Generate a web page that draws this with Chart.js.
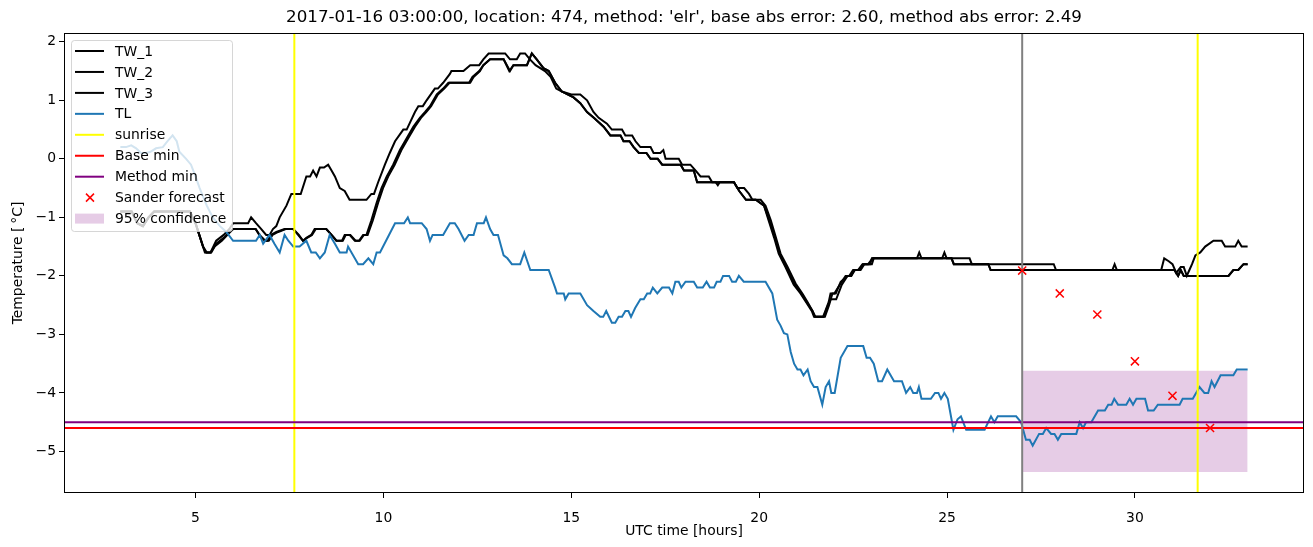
<!DOCTYPE html>
<html><head><meta charset="utf-8">
<script src="https://cdn.jsdelivr.net/npm/chart.js@4"></script>
<style>html,body{margin:0;padding:0;background:#fff;}canvas{display:block;}</style>
</head><body>
<canvas id="c" width="1313" height="547"></canvas>
<script>
const TITLE = "2017-01-16 03:00:00, location: 474, method: 'elr', base abs error: 2.60, method abs error: 2.49";
const X_LABEL = "UTC time [hours]";
const Y_LABEL = "Temperature [\u2009\u00b0C]";
const X_TICKS = [5, 10, 15, 20, 25, 30];
const Y_TICKS = [-5, -4, -3, -2, -1, 0, 1, 2];
const X_RANGE = [1.5, 34.5];
const Y_RANGE = [-5.71, 2.15];

const TW_1 = [[3.0,-0.9],[3.3,-0.9],[3.45,-1.1],[3.6,-1.15],[3.75,-1.0],[3.9,-0.9],[4.85,-0.9],[5.0,-1.1],[5.2,-1.5],[5.3,-1.6],[5.4,-1.6],[5.55,-1.4],[5.75,-1.3],[5.9,-1.2],[6.0,-1.1],[6.4,-1.1],[6.48,-1.0],[6.61,-1.1],[6.75,-1.2],[6.88,-1.3],[6.97,-1.3],[7.06,-1.2],[7.15,-1.15],[7.24,-1.0],[7.42,-0.8],[7.55,-0.6],[7.8,-0.6],[7.95,-0.3],[8.05,-0.3],[8.13,-0.2],[8.22,-0.3],[8.31,-0.15],[8.42,-0.15],[8.53,-0.1],[8.62,-0.2],[8.71,-0.3],[8.84,-0.5],[8.97,-0.55],[9.1,-0.7],[9.55,-0.7],[9.68,-0.6],[9.75,-0.6],[9.86,-0.4],[10.04,-0.1],[10.17,0.1],[10.31,0.3],[10.53,0.5],[10.62,0.5],[10.84,0.8],[10.93,0.9],[11.05,0.9],[11.15,1.0],[11.37,1.2],[11.45,1.2],[11.59,1.3],[11.77,1.45],[11.81,1.5],[12.13,1.5],[12.31,1.6],[12.55,1.6],[12.66,1.7],[12.8,1.8],[13.24,1.8],[13.37,1.7],[13.55,1.7],[13.64,1.8],[13.77,1.8],[13.9,1.7],[14.05,1.6],[14.3,1.5],[14.45,1.4],[14.6,1.2],[14.75,1.15],[15.0,1.1],[15.24,1.1],[15.42,1.0],[15.59,0.8],[15.73,0.7],[15.95,0.6],[16.08,0.5],[16.35,0.5],[16.44,0.4],[16.62,0.4],[16.71,0.3],[16.84,0.2],[17.11,0.2],[17.19,0.1],[17.37,0.1],[17.45,0.15],[17.51,0.0],[17.86,0.0],[17.95,-0.1],[18.17,-0.1],[18.31,-0.2],[18.44,-0.3],[18.66,-0.3],[18.75,-0.4],[19.33,-0.4],[19.42,-0.5],[19.6,-0.5],[19.73,-0.6],[19.82,-0.7],[20.04,-0.7],[20.17,-0.8],[20.31,-1.05],[20.44,-1.33],[20.57,-1.62],[20.75,-1.84],[20.97,-2.13],[21.15,-2.3],[21.29,-2.45],[21.42,-2.6],[21.5,-2.7],[21.75,-2.7],[21.86,-2.5],[21.95,-2.3],[22.04,-2.3],[22.17,-2.1],[22.35,-2.0],[22.45,-2.0],[22.53,-1.9],[22.67,-1.9],[22.76,-1.8],[22.9,-1.8],[23.02,-1.7],[24.2,-1.7],[24.26,-1.6],[24.32,-1.7],[24.87,-1.7],[24.93,-1.6],[24.99,-1.7],[25.6,-1.7],[25.66,-1.8],[27.84,-1.8],[27.9,-1.9],[29.4,-1.9],[29.46,-1.8],[29.52,-1.9],[30.7,-1.9],[30.78,-1.7],[30.9,-1.75],[31.0,-1.8],[31.1,-1.95],[31.22,-1.85],[31.3,-1.85],[31.38,-2.0],[31.45,-1.9],[31.52,-1.8],[31.61,-1.65],[31.74,-1.6],[31.87,-1.5],[32.09,-1.4],[32.31,-1.4],[32.4,-1.5],[32.67,-1.5],[32.75,-1.4],[32.84,-1.5],[33.0,-1.5]];

const TW_2 = [[3.0,-0.9],[3.3,-0.9],[3.45,-1.1],[3.6,-1.15],[3.75,-1.0],[3.9,-0.9],[4.85,-0.9],[5.0,-1.1],[5.2,-1.5],[5.25,-1.6],[5.42,-1.6],[5.55,-1.45],[5.75,-1.35],[5.9,-1.25],[6.0,-1.2],[6.6,-1.2],[6.7,-1.3],[6.85,-1.4],[6.92,-1.4],[7.0,-1.3],[7.15,-1.25],[7.37,-1.2],[7.6,-1.2],[7.73,-1.3],[7.86,-1.4],[7.95,-1.35],[8.08,-1.3],[8.17,-1.2],[8.48,-1.2],[8.62,-1.3],[8.75,-1.4],[8.9,-1.4],[8.97,-1.3],[9.1,-1.3],[9.24,-1.4],[9.35,-1.4],[9.46,-1.3],[9.55,-1.3],[9.68,-1.05],[9.82,-0.75],[9.95,-0.5],[10.09,-0.3],[10.26,-0.1],[10.44,0.15],[10.62,0.35],[10.8,0.55],[10.97,0.7],[11.11,0.8],[11.24,0.9],[11.42,1.1],[11.59,1.2],[11.73,1.3],[12.31,1.3],[12.4,1.4],[12.57,1.5],[12.66,1.6],[12.84,1.7],[13.2,1.7],[13.37,1.5],[13.46,1.6],[13.82,1.6],[13.95,1.8],[14.08,1.7],[14.26,1.55],[14.4,1.5],[14.57,1.3],[14.75,1.15],[14.9,1.1],[15.06,1.05],[15.24,0.95],[15.42,0.8],[15.6,0.7],[15.86,0.55],[16.04,0.4],[16.31,0.4],[16.39,0.3],[16.55,0.3],[16.66,0.2],[16.8,0.1],[17.0,0.1],[17.11,0.0],[17.3,0.0],[17.42,-0.1],[17.91,-0.1],[18.0,-0.2],[18.26,-0.2],[18.35,-0.4],[18.84,-0.4],[18.9,-0.45],[18.95,-0.4],[19.33,-0.4],[19.47,-0.55],[19.65,-0.7],[19.91,-0.7],[20.13,-0.8],[20.25,-1.05],[20.4,-1.35],[20.52,-1.62],[20.7,-1.85],[20.92,-2.15],[21.1,-2.3],[21.25,-2.45],[21.4,-2.6],[21.46,-2.7],[21.72,-2.7],[21.8,-2.55],[21.9,-2.4],[22.05,-2.4],[22.2,-2.15],[22.35,-2.0],[22.45,-2.0],[22.55,-1.9],[22.7,-1.9],[22.8,-1.8],[23.0,-1.8],[23.05,-1.7],[25.12,-1.7],[25.18,-1.8],[26.1,-1.8],[26.16,-1.9],[31.05,-1.9],[31.15,-2.0],[31.22,-1.9],[31.3,-2.0],[32.49,-2.0],[32.62,-1.9],[32.75,-1.9],[32.89,-1.8],[33.0,-1.8]];

const TW_3 = [[3.0,-0.9],[3.3,-0.9],[3.45,-1.1],[3.6,-1.15],[3.75,-1.0],[3.9,-0.9],[4.85,-0.9],[5.0,-1.1],[5.2,-1.5],[5.28,-1.6],[5.4,-1.6],[5.5,-1.5],[5.7,-1.4],[5.85,-1.3],[6.0,-1.2],[6.6,-1.2],[6.7,-1.3],[6.85,-1.4],[6.95,-1.4],[7.05,-1.3],[7.2,-1.25],[7.4,-1.2],[7.6,-1.2],[7.75,-1.3],[7.86,-1.4],[7.97,-1.35],[8.1,-1.3],[8.2,-1.2],[8.48,-1.2],[8.62,-1.3],[8.75,-1.4],[8.92,-1.4],[9.0,-1.3],[9.12,-1.3],[9.26,-1.4],[9.37,-1.4],[9.48,-1.3],[9.58,-1.3],[9.72,-1.05],[9.86,-0.75],[9.99,-0.5],[10.13,-0.3],[10.3,-0.1],[10.48,0.15],[10.66,0.35],[10.84,0.55],[11.0,0.7],[11.14,0.8],[11.27,0.9],[11.45,1.1],[11.62,1.2],[11.76,1.3],[12.28,1.3],[12.37,1.4],[12.55,1.5],[12.66,1.6],[12.84,1.7],[13.2,1.7],[13.35,1.5],[13.46,1.6],[13.82,1.6],[13.95,1.8],[14.08,1.7],[14.26,1.55],[14.4,1.5],[14.57,1.3],[14.75,1.15],[14.9,1.1],[15.06,1.05],[15.24,0.95],[15.42,0.8],[15.6,0.7],[15.86,0.55],[16.04,0.4],[16.31,0.4],[16.39,0.3],[16.55,0.3],[16.66,0.2],[16.8,0.1],[17.0,0.1],[17.11,0.0],[17.3,0.0],[17.42,-0.1],[17.91,-0.1],[18.0,-0.2],[18.26,-0.2],[18.35,-0.4],[19.33,-0.4],[19.47,-0.55],[19.65,-0.7],[19.91,-0.7],[20.13,-0.8],[20.27,-1.05],[20.42,-1.35],[20.55,-1.62],[20.72,-1.85],[20.95,-2.15],[21.12,-2.3],[21.27,-2.45],[21.42,-2.6],[21.48,-2.7],[21.7,-2.7],[21.76,-2.6],[21.85,-2.45],[21.9,-2.3],[22.0,-2.3],[22.15,-2.15],[22.3,-2.0],[22.4,-2.0],[22.5,-1.9],[22.63,-1.9],[22.75,-1.8],[22.95,-1.8],[23.0,-1.7],[25.12,-1.7],[25.18,-1.8],[26.1,-1.8],[26.16,-1.9],[31.05,-1.9],[31.15,-2.0],[31.22,-1.9],[31.3,-2.0],[32.49,-2.0],[32.62,-1.9],[32.75,-1.9],[32.89,-1.8],[33.0,-1.8]];

const TL = [[3.0,0.2],[3.15,0.2],[3.29,0.23],[3.42,0.18],[3.55,0.1],[3.69,0.1],[3.8,0.12],[3.95,0.18],[4.13,0.2],[4.25,0.3],[4.39,0.4],[4.5,0.3],[4.57,0.12],[4.75,0.0],[4.88,-0.1],[5.0,-0.3],[5.11,-0.5],[5.3,-0.8],[5.46,-1.0],[5.65,-1.15],[5.82,-1.25],[6.0,-1.4],[6.61,-1.4],[6.71,-1.3],[6.8,-1.45],[6.97,-1.3],[7.1,-1.45],[7.24,-1.6],[7.37,-1.3],[7.47,-1.4],[7.6,-1.5],[7.77,-1.5],[7.95,-1.4],[8.08,-1.6],[8.2,-1.6],[8.31,-1.7],[8.44,-1.6],[8.57,-1.3],[8.71,-1.45],[8.84,-1.6],[9.02,-1.6],[9.06,-1.5],[9.33,-1.8],[9.46,-1.8],[9.6,-1.7],[9.73,-1.8],[9.82,-1.6],[9.91,-1.6],[10.31,-1.1],[10.55,-1.1],[10.65,-1.0],[10.71,-1.1],[11.02,-1.1],[11.15,-1.2],[11.24,-1.4],[11.31,-1.3],[11.59,-1.3],[11.77,-1.1],[11.9,-1.1],[12.0,-1.2],[12.16,-1.4],[12.27,-1.3],[12.4,-1.3],[12.49,-1.1],[12.67,-1.1],[12.73,-1.0],[12.84,-1.2],[12.93,-1.3],[13.05,-1.3],[13.2,-1.65],[13.3,-1.7],[13.42,-1.8],[13.64,-1.8],[13.75,-1.6],[13.91,-1.9],[14.4,-1.9],[14.57,-2.2],[14.62,-2.3],[14.8,-2.3],[14.84,-2.4],[14.93,-2.3],[15.24,-2.3],[15.42,-2.5],[15.59,-2.6],[15.77,-2.7],[15.85,-2.7],[15.93,-2.6],[16.08,-2.8],[16.17,-2.8],[16.26,-2.7],[16.35,-2.7],[16.44,-2.6],[16.52,-2.6],[16.59,-2.7],[16.7,-2.55],[16.84,-2.4],[16.93,-2.4],[17.02,-2.3],[17.1,-2.3],[17.17,-2.2],[17.29,-2.3],[17.42,-2.2],[17.6,-2.2],[17.69,-2.3],[17.77,-2.1],[17.86,-2.1],[17.93,-2.2],[18.04,-2.1],[18.26,-2.1],[18.35,-2.2],[18.5,-2.2],[18.6,-2.1],[18.69,-2.2],[18.8,-2.2],[18.87,-2.1],[18.97,-2.1],[19.04,-2.0],[19.2,-2.0],[19.28,-2.1],[19.38,-2.1],[19.46,-2.0],[19.59,-2.1],[20.17,-2.1],[20.35,-2.3],[20.48,-2.75],[20.57,-2.85],[20.66,-2.98],[20.75,-3.0],[20.84,-3.3],[20.93,-3.5],[21.02,-3.6],[21.1,-3.6],[21.18,-3.7],[21.29,-3.6],[21.37,-3.8],[21.46,-3.9],[21.55,-3.9],[21.68,-4.2],[21.77,-3.9],[21.86,-3.8],[21.92,-4.0],[22.01,-4.0],[22.17,-3.4],[22.35,-3.2],[22.77,-3.2],[22.86,-3.4],[22.95,-3.4],[23.05,-3.5],[23.17,-3.8],[23.27,-3.8],[23.41,-3.6],[23.59,-3.8],[23.8,-3.8],[23.91,-4.0],[24.02,-3.9],[24.1,-4.0],[24.2,-4.0],[24.25,-3.9],[24.32,-4.1],[24.57,-4.1],[24.68,-4.0],[24.77,-4.0],[24.84,-4.1],[24.93,-4.0],[25.02,-4.1],[25.17,-4.63],[25.28,-4.45],[25.37,-4.4],[25.51,-4.63],[26.0,-4.63],[26.17,-4.4],[26.26,-4.5],[26.35,-4.4],[26.84,-4.4],[26.97,-4.5],[27.1,-4.8],[27.2,-4.8],[27.28,-4.9],[27.45,-4.7],[27.55,-4.7],[27.64,-4.6],[27.77,-4.7],[27.86,-4.7],[27.95,-4.8],[28.04,-4.7],[28.44,-4.7],[28.53,-4.5],[28.62,-4.6],[28.7,-4.5],[28.84,-4.5],[29.02,-4.3],[29.2,-4.3],[29.29,-4.2],[29.38,-4.2],[29.45,-4.1],[29.55,-4.2],[29.77,-4.2],[29.86,-4.1],[29.95,-4.2],[30.04,-4.1],[30.27,-4.1],[30.35,-4.3],[30.5,-4.3],[30.61,-4.2],[31.19,-4.2],[31.27,-4.1],[31.54,-4.1],[31.72,-3.9],[31.85,-4.0],[31.95,-4.0],[32.04,-3.8],[32.12,-3.9],[32.28,-3.7],[32.62,-3.7],[32.71,-3.6],[33.0,-3.6]];

const SUNRISE = [7.63, 31.67];
const FORECAST_TIME = 27;
const BASE_MIN = -4.6;
const METHOD_MIN = -4.5;
const SANDER_T = [27, 28, 29, 30, 31, 32];
const SANDER_V = [-1.91, -2.30, -2.66, -3.46, -4.05, -4.60];
const CONF_T = [27, 33];
const CONF_HI = -3.62;
const CONF_LO = -5.35;

const FONT = 'DejaVu Sans';
Chart.defaults.font.family = FONT;
Chart.defaults.color = '#000';

const xy = arr => arr.map(p => ({x: p[0], y: p[1]}));
const vlines = xs => {
  const out = [];
  xs.forEach((x, i) => {
    if (i > 0) out.push({x: x, y: null});
    out.push({x: x, y: Y_RANGE[0]}, {x: x, y: Y_RANGE[1]});
  });
  return out;
};
const hline = y => [{x: X_RANGE[0], y: y}, {x: X_RANGE[1], y: y}];

const base = {type: 'line', pointRadius: 0, borderWidth: 2, tension: 0, fill: false, spanGaps: false};
const datasets = [
  Object.assign({}, base, {label: 'TW_1', data: xy(TW_1), borderColor: '#000000', order: 20}),
  Object.assign({}, base, {label: 'TW_2', data: xy(TW_2), borderColor: '#000000', order: 19}),
  Object.assign({}, base, {label: 'TW_3', data: xy(TW_3), borderColor: '#000000', order: 18}),
  Object.assign({}, base, {label: 'TL', data: xy(TL), borderColor: '#1f77b4', order: 17}),
  Object.assign({}, base, {label: 'sunrise', data: vlines(SUNRISE), borderColor: '#ffff00', order: 16}),
  Object.assign({}, base, {label: 'Base min', data: hline(BASE_MIN), borderColor: '#ff0000', order: 15}),
  Object.assign({}, base, {label: 'Method min', data: hline(METHOD_MIN), borderColor: '#800080', order: 14}),
  Object.assign({}, base, {label: 'Sander forecast', data: SANDER_T.map((t, i) => ({x: t, y: SANDER_V[i]})), showLine: false,
    pointStyle: 'crossRot', pointRadius: 5.7, pointBorderWidth: 1.5, borderColor: '#ff0000', backgroundColor: '#ff0000', order: 12}),
  Object.assign({}, base, {label: '95% confidence', data: CONF_T.map(t => ({x: t, y: CONF_HI})), borderWidth: 0,
    borderColor: 'rgba(0,0,0,0)', backgroundColor: 'rgba(128,0,128,0.2)', fill: {value: CONF_LO}, order: 100}),
  Object.assign({}, base, {label: '_forecast', data: vlines([FORECAST_TIME]), borderColor: '#808080', order: 13})
];

const LEGEND_LABELS = ['TW_1', 'TW_2', 'TW_3', 'TL', 'sunrise', 'Base min', 'Method min', 'Sander forecast', '95% confidence'];

const framePlugin = {
  id: 'frame',
  afterDraw(chart) {
    const ctx = chart.ctx, a = chart.chartArea;
    ctx.save();
    ctx.strokeStyle = '#000'; ctx.lineWidth = 1;
    ctx.strokeRect(Math.round(a.left) + 0.5, Math.round(a.top) + 0.5, Math.round(a.right - a.left) - 1, Math.round(a.bottom - a.top) - 1);
    ctx.fillStyle = '#000';
    ctx.font = '16.7px "' + FONT + '"';
    ctx.textAlign = 'center'; ctx.textBaseline = 'middle';
    ctx.fillText(TITLE, (a.left + a.right) / 2, 18);
    const x0 = 71.5, y0 = 40.5, w = 161, h = 191, r = 3;
    ctx.beginPath();
    ctx.moveTo(x0 + r, y0); ctx.lineTo(x0 + w - r, y0); ctx.arcTo(x0 + w, y0, x0 + w, y0 + r, r);
    ctx.lineTo(x0 + w, y0 + h - r); ctx.arcTo(x0 + w, y0 + h, x0 + w - r, y0 + h, r);
    ctx.lineTo(x0 + r, y0 + h); ctx.arcTo(x0, y0 + h, x0, y0 + h - r, r);
    ctx.lineTo(x0, y0 + r); ctx.arcTo(x0, y0, x0 + r, y0, r);
    ctx.closePath();
    ctx.fillStyle = 'rgba(255,255,255,0.8)'; ctx.fill();
    ctx.strokeStyle = 'rgba(204,204,204,0.8)'; ctx.lineWidth = 1; ctx.stroke();
    ctx.font = '13.9px "' + FONT + '"';
    ctx.textAlign = 'left'; ctx.textBaseline = 'middle';
    LEGEND_LABELS.forEach((lab, i) => {
      const ds = chart.data.datasets.find(d => d.label === lab);
      const y = 51 + i * 20.95;
      if (lab === 'Sander forecast') {
        ctx.strokeStyle = ds.borderColor; ctx.lineWidth = 1.5;
        ctx.beginPath();
        ctx.moveTo(86, y - 4); ctx.lineTo(94, y + 4); ctx.moveTo(94, y - 4); ctx.lineTo(86, y + 4);
        ctx.stroke();
      } else if (lab === '95% confidence') {
        ctx.fillStyle = ds.backgroundColor;
        ctx.fillRect(75, y - 5, 29, 10);
      } else {
        ctx.strokeStyle = ds.borderColor; ctx.lineWidth = 2;
        ctx.beginPath(); ctx.moveTo(75, y); ctx.lineTo(104, y); ctx.stroke();
      }
      ctx.fillStyle = '#000';
      ctx.fillText(lab, 115, y + 1);
    });
    ctx.restore();
  }
};

const tickFont = {size: 13.9, family: FONT};
new Chart(document.getElementById('c'), {
  type: 'line',
  data: {datasets: datasets},
  plugins: [framePlugin],
  options: {
    responsive: false,
    animation: false,
    events: [],
    layout: {padding: {top: 33, right: 9, left: 0, bottom: 7}},
    plugins: {legend: {display: false}, title: {display: false}, tooltip: {enabled: false}},
    scales: {
      x: {
        type: 'linear', min: X_RANGE[0], max: X_RANGE[1],
        afterBuildTicks: a => { a.ticks = X_TICKS.map(v => ({value: v})); },
        afterFit: a => { a.height = 47; },
        grid: {display: true, drawOnChartArea: false, drawTicks: true, tickLength: 5, color: '#000', tickColor: '#000', tickWidth: 1},
        border: {display: false},
        ticks: {font: tickFont, color: '#000', padding: 12, maxRotation: 0, autoSkip: false, callback: v => String(v)},
        title: {display: true, text: X_LABEL, font: tickFont, color: '#000', padding: {top: 2, bottom: 0}}
      },
      y: {
        type: 'linear', min: Y_RANGE[0], max: Y_RANGE[1],
        afterBuildTicks: a => { a.ticks = Y_TICKS.map(v => ({value: v})); },
        afterFit: a => { a.width = 64; },
        grid: {display: true, drawOnChartArea: false, drawTicks: true, tickLength: 5, color: '#000', tickColor: '#000', tickWidth: 1},
        border: {display: false},
        ticks: {font: tickFont, color: '#000', padding: 3, autoSkip: false, callback: v => String(v).replace('-', '\u2212')},
        title: {display: true, text: Y_LABEL, font: tickFont, color: '#000', padding: {top: 10, bottom: 0}}
      }
    }
  }
});
</script>
</body></html>
